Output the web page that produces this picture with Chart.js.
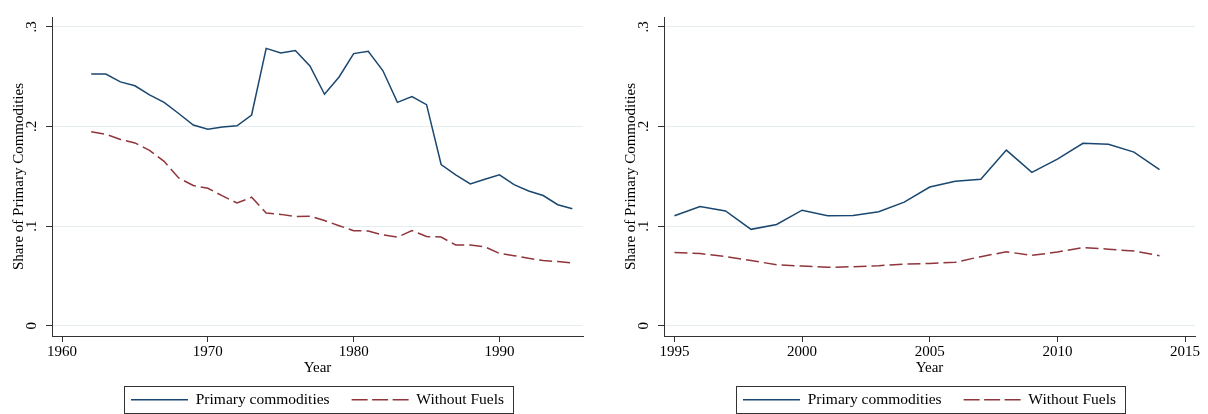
<!DOCTYPE html>
<html><head><meta charset="utf-8">
<script src="https://cdn.jsdelivr.net/npm/chart.js@4"></script>
<style>
html,body{margin:0;padding:0;background:#fff;}
#wrap{position:relative;width:1208px;height:414px;overflow:hidden;background:#fff;}
canvas{position:absolute;top:0;}
#c1{left:0}
#c2{left:612px}
</style></head><body>
<div id="wrap"><canvas id="c1" width="596" height="414"></canvas><canvas id="c2" width="596" height="414"></canvas></div>
<script>
// ---- data: left panel (1962-1995) ----
const years1 = [1962,1963,1964,1965,1966,1967,1968,1969,1970,1971,1972,1973,1974,1975,1976,1977,1978,1979,1980,1981,1982,1983,1984,1985,1986,1987,1988,1989,1990,1991,1992,1993,1994,1995];
const primary1 = [.2525,.2525,.2447,.2408,.2317,.2242,.2130,.2014,.1972,.1994,.2007,.2115,.2783,.2737,.2762,.2607,.2323,.2496,.2731,.2754,.2561,.2242,.2300,.2219,.1618,.1515,.1424,.1470,.1515,.1417,.1352,.1307,.1215,.1175];
const without1 = [.1948,.1922,.1870,.1835,.1760,.1650,.1483,.1408,.1380,.1303,.1232,.1290,.1131,.1118,.1096,.1100,.1056,.1004,.0955,.0951,.0912,.0890,.0955,.0896,.0890,.0811,.0811,.0792,.0726,.0704,.0677,.0655,.0645,.0630];
// ---- data: right panel (1995-2014) ----
const years2 = [1995,1996,1997,1998,1999,2000,2001,2002,2003,2004,2005,2006,2007,2008,2009,2010,2011,2012,2013,2014];
const primary2 = [.1105,.1196,.1153,.0968,.1017,.1160,.1105,.1108,.1144,.1241,.1392,.1450,.1470,.1763,.1540,.1672,.1831,.1821,.1743,.1567];
const without2 = [.0736,.0726,.0694,.0655,.0613,.0599,.0587,.0593,.0603,.0619,.0626,.0638,.0694,.0743,.0707,.0740,.0785,.0769,.0750,.0704];
// ---- ticks ----
const xTicks1 = [1960,1970,1980,1990];
const xTickLabels1 = ['1960','1970','1980','1990'];
const xTicks2 = [1995,2000,2005,2010,2015];
const xTickLabels2 = ['1995','2000','2005','2010','2015'];
const yTicks = [0,0.1,0.2,0.3];
const yTickLabels = ['0','.1','.2','.3'];
const seriesNames = ['Primary commodities','Without Fuels'];

const FONT = '"Liberation Serif", "Times New Roman", serif';
const AXIS = '#333333';
const GRID = '#e4edf0';

const legendBox = {
  id: 'legendBox',
  afterDraw(chart) {
    const lg = chart.legend;
    if (!lg || !lg.legendHitBoxes || !lg.legendHitBoxes.length) return;
    const hb = lg.legendHitBoxes;
    const l = Math.min(...hb.map(h => h.left)) - 7;
    const r = Math.max(...hb.map(h => h.left + h.width)) + 9;
    const t = hb[0].top - 6;
    const ctx = chart.ctx;
    ctx.save();
    ctx.strokeStyle = AXIS;
    ctx.lineWidth = 1;
    ctx.strokeRect(Math.round(l) + 0.5, Math.round(t) + 0.5, Math.round(r - l), 27);
    ctx.restore();
  }
};

function legendLabels(chart) {
  const base = Chart.defaults.plugins.legend.labels.generateLabels(chart);
  return base.map((it, i) => {
    const ds = chart.data.datasets[it.datasetIndex !== undefined ? it.datasetIndex : i];
    return Object.assign({}, it, {
      pointStyle: 'line',
      strokeStyle: ds.borderColor,
      fillStyle: ds.borderColor,
      lineWidth: ds.borderWidth,
      lineDash: ds.borderDash ? [16, 4.5] : [],
      lineDashOffset: 0
    });
  });
}

function makeChart(id, years, prim, without, xTicks, xLabels, xMin, xMax) {
  return new Chart(document.getElementById(id), {
    type: 'line',
    data: {
      datasets: [
        { label: seriesNames[0], data: years.map((x, i) => ({x, y: prim[i]})),
          borderColor: '#1a476f', backgroundColor: '#1a476f', borderWidth: 1.5,
          pointRadius: 0, tension: 0, fill: false },
        { label: seriesNames[1], data: years.map((x, i) => ({x, y: without[i]})),
          borderColor: '#90353b', backgroundColor: '#90353b', borderWidth: 1.5,
          borderDash: [13, 5], pointRadius: 0, tension: 0, fill: false }
      ]
    },
    options: {
      responsive: false, animation: false, devicePixelRatio: 1,
      layout: { padding: { top: 9, right: 13, left: 0, bottom: 0 } },
      plugins: {
        legend: {
          position: 'bottom', fullSize: false, maxHeight: 44,
          labels: { usePointStyle: true, pointStyle: 'line', pointStyleWidth: 57,
                    generateLabels: legendLabels,
                    padding: 22, color: '#000', font: { family: FONT, size: 15.5 } }
        },
        tooltip: { enabled: false }
      },
      scales: {
        x: {
          type: 'linear', min: xMin, max: xMax,
          afterBuildTicks: s => { s.ticks = xTicks.map(v => ({ value: v })); },
          afterFit: s => { s.height = 34; },
          ticks: { callback: (v, i) => xLabels[i], color: '#000', padding: 1,
                   maxRotation: 0, minRotation: 0, autoSkip: false,
                   font: { family: FONT, size: 15 } },
          grid: { drawOnChartArea: false, drawTicks: true, tickLength: 6, tickColor: AXIS },
          border: { display: true, color: AXIS, width: 1 },
          title: { display: true, text: 'Year', color: '#000',
                   font: { family: FONT, size: 15 }, padding: { top: 0, bottom: -7 } }
        },
        y: {
          type: 'linear', min: -0.0102, max: 0.3098,
          afterBuildTicks: s => { s.ticks = yTicks.map(v => ({ value: v })); },
          afterFit: s => { s.width = 52; },
          ticks: { callback: (v, i) => yTickLabels[i], color: '#000', padding: 8,
                   minRotation: 90, maxRotation: 90, crossAlign: 'center', autoSkip: false,
                   font: { family: FONT, size: 15 } },
          grid: { color: GRID, lineWidth: 1, drawTicks: true, tickLength: 6, tickColor: AXIS },
          border: { display: true, color: AXIS, width: 1 },
          title: { display: true, text: 'Share of Primary Commodities', color: '#000',
                   font: { family: FONT, size: 15 }, padding: { top: 10, bottom: 0 } }
        }
      }
    },
    plugins: [legendBox]
  });
}

makeChart('c1', years1, primary1, without1, xTicks1, xTickLabels1, 1959.31, 1995.73);
makeChart('c2', years2, primary2, without2, xTicks2, xTickLabels2, 1994.59, 2015.39);
</script>
</body></html>
